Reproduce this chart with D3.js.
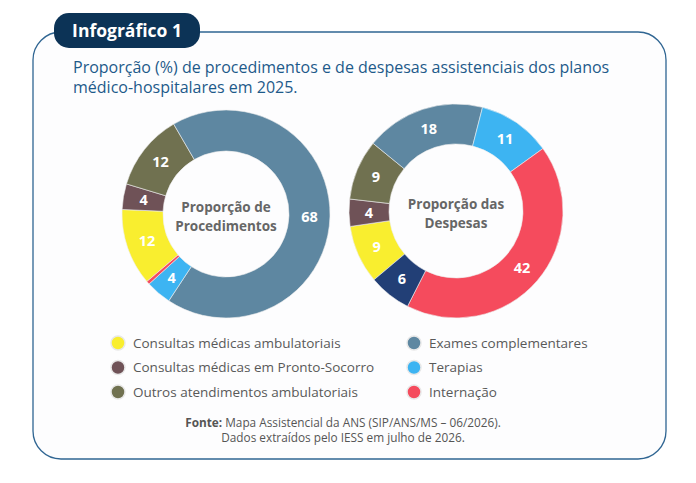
<!DOCTYPE html>
<html lang="pt-BR">
<head>
<meta charset="utf-8">
<script src="https://cdn.jsdelivr.net/npm/d3@7"></script>
<style>
  html, body { margin: 0; padding: 0; background: #fff; }
  svg { display: block; font-family: "Open Sans", "Noto Sans", sans-serif; }
</style>
</head>
<body>
<svg id="chart" width="696" height="483"></svg>
<script>
// categorias da legenda (a sétima fatia das despesas não aparece na legenda)
const categories = [
  'Consultas médicas ambulatoriais',
  'Consultas médicas em Pronto-Socorro',
  'Outros atendimentos ambulatoriais',
  'Exames complementares',
  'Terapias',
  'Internação'
];
const colors = ['#f9ee2f', '#6f5257', '#707150', '#5e87a1', '#3db4f2', '#f54b5d', '#223f76'];

// valores (%)
const procedimentos = [12, 4, 12, 68, 4, 0.5];
const despesas = [8.8, 4.1, 9.1, 18.1, 11.1, 42.4, 6.4];

const titleLines = [
  'Proporção (%) de procedimentos e de despesas assistenciais dos planos',
  'médico-hospitalares em 2025.'
];
const sourceText = 'Mapa Assistencial da ANS (SIP/ANS/MS – 06/2026).';
const sourceText2 = 'Dados extraídos pelo IESS em julho de 2026.';

const svg = d3.select('#chart');

// moldura
svg.append('rect')
  .attr('x', 33).attr('y', 32)
  .attr('width', 633).attr('height', 427)
  .attr('rx', 28).attr('ry', 28)
  .attr('fill', '#fdfdfe')
  .attr('stroke', '#2f6592')
  .attr('stroke-width', 1.3);

// selo
svg.append('rect')
  .attr('x', 54).attr('y', 13)
  .attr('width', 146).attr('height', 35)
  .attr('rx', 15).attr('ry', 15)
  .attr('fill', '#0c3356');
svg.append('text')
  .attr('x', 127).attr('y', 37)
  .attr('text-anchor', 'middle')
  .attr('fill', '#fff')
  .attr('font-size', 17.5)
  .attr('font-weight', 700)
  .text('Infográfico 1');

// título
svg.append('text')
  .attr('x', 73).attr('y', 73)
  .attr('fill', '#1d5a8a')
  .attr('font-size', 16)
  .selectAll('tspan')
  .data(titleLines)
  .join('tspan')
  .attr('x', 73)
  .attr('dy', (d, i) => i === 0 ? 0 : 20)
  .text(d => d);

function drawDonut(values, cx, cy, rOuter, rInner, startDeg, centerLines) {
  const start = startDeg * Math.PI / 180;
  const pie = d3.pie().sort(null).value(d => d)
    .startAngle(start).endAngle(start + 2 * Math.PI);
  const arc = d3.arc().innerRadius(rInner).outerRadius(rOuter);
  const labelArc = d3.arc()
    .innerRadius((rInner + rOuter) / 2)
    .outerRadius((rInner + rOuter) / 2);

  const g = svg.append('g').attr('transform', `translate(${cx},${cy})`);
  const arcs = pie(values);

  g.selectAll('path')
    .data(arcs)
    .join('path')
    .attr('d', arc)
    .attr('fill', (d, i) => colors[i])
    .attr('stroke', '#eeeeee')
    .attr('stroke-width', 0.6);

  g.selectAll('text.val')
    .data(arcs.filter(d => d.value >= 1))
    .join('text')
    .attr('class', 'val')
    .attr('transform', d => `translate(${labelArc.centroid(d)})`)
    .attr('text-anchor', 'middle')
    .attr('dy', '0.36em')
    .attr('fill', '#fff')
    .attr('font-size', 14.5)
    .attr('font-weight', 700)
    .text(d => Math.round(d.value));

  g.append('text')
    .attr('text-anchor', 'middle')
    .attr('fill', '#666')
    .attr('font-size', 13.5)
    .attr('font-weight', 700)
    .selectAll('tspan')
    .data(centerLines)
    .join('tspan')
    .attr('x', 0)
    .attr('y', (d, i) => i * 19 - 2)
    .text(d => d);
}

drawDonut(procedimentos, 226, 214, 104, 63, -130.5, ['Proporção de', 'Procedimentos']);
drawDonut(despesas, 456, 211, 107, 67, -130, ['Proporção das', 'Despesas']);

// legenda
const legend = svg.append('g');
const legendItems = legend.selectAll('g')
  .data(categories)
  .join('g')
  .attr('transform', (d, i) => {
    const col = Math.floor(i / 3);
    const row = i % 3;
    return `translate(${118 + col * 296},${343 + row * 24.5})`;
  });

legendItems.append('circle')
  .attr('r', 7)
  .attr('fill', (d, i) => colors[i])
  .attr('stroke', '#e8e8e8')
  .attr('stroke-width', 1.5);

legendItems.append('text')
  .attr('x', 15)
  .attr('dy', '0.35em')
  .attr('fill', '#595959')
  .attr('font-size', 13.5)
  .text(d => d);

// fonte
const src = svg.append('text')
  .attr('x', 343).attr('y', 427)
  .attr('text-anchor', 'middle')
  .attr('fill', '#555')
  .attr('font-size', 11.8);
src.append('tspan').attr('font-weight', 700).text('Fonte: ');
src.append('tspan').text(sourceText);

svg.append('text')
  .attr('x', 343).attr('y', 442)
  .attr('text-anchor', 'middle')
  .attr('fill', '#555')
  .attr('font-size', 11.8)
  .text(sourceText2);
</script>
</body>
</html>
